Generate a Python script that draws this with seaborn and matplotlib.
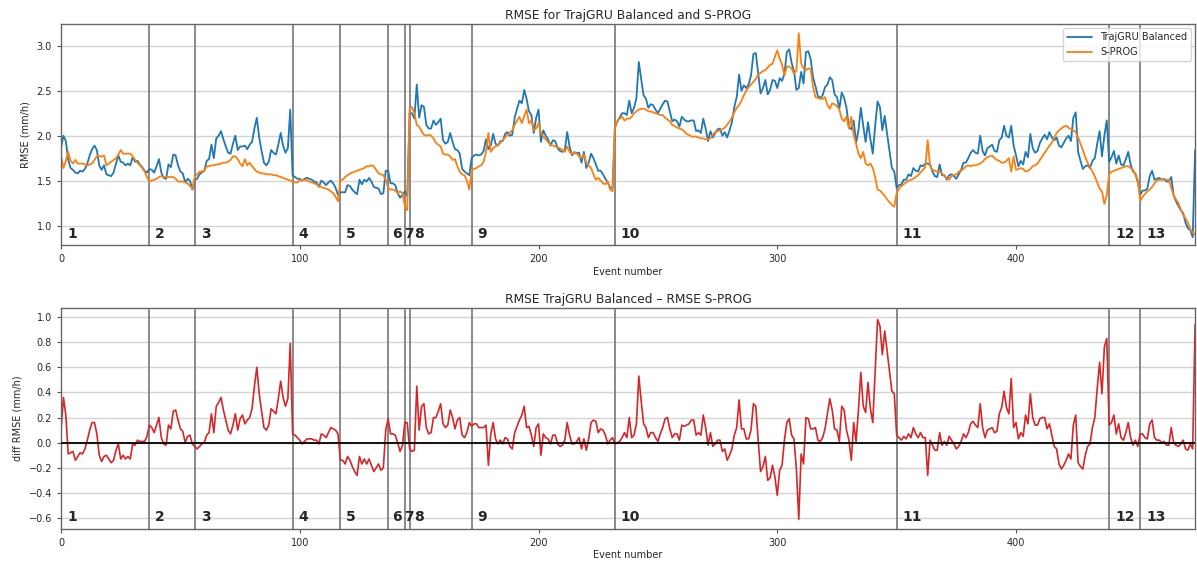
import numpy as np
import matplotlib
matplotlib.use("Agg")
import matplotlib.pyplot as plt
import matplotlib.transforms as mtransforms
import seaborn as sns

# First event number of each of the 13 precipitation events
event_starts = [0, 37, 56, 97, 117, 137, 144, 146, 172, 232, 350, 439, 452]
event_labels = ["1", "2", "3", "4", "5", "6", "7", "8", "9", "10", "11", "12", "13"]

# S-PROG RMSE (mm/h), one value per event number
sprog_rmse = [
    # event 1
    1.77, 1.64, 1.72, 1.82, 1.72, 1.69, 1.73, 1.69, 1.69, 1.69,
    1.68, 1.67, 1.68, 1.69, 1.73, 1.77, 1.77, 1.77, 1.78, 1.67,
    1.69, 1.71, 1.73, 1.75, 1.79, 1.84, 1.80, 1.80, 1.80, 1.80,
    1.77, 1.73, 1.70, 1.67, 1.64, 1.60, 1.54,
    # event 2
    1.49, 1.50, 1.51, 1.52, 1.54, 1.55, 1.54, 1.54, 1.54, 1.54,
    1.54, 1.52, 1.49, 1.49, 1.49, 1.48, 1.47, 1.44, 1.41,
    # event 3
    1.54, 1.57, 1.60, 1.60, 1.61, 1.66, 1.66, 1.67, 1.67, 1.68,
    1.68, 1.69, 1.70, 1.70, 1.71, 1.73, 1.77, 1.77, 1.74, 1.69,
    1.66, 1.74, 1.67, 1.70, 1.66, 1.63, 1.60, 1.59, 1.58, 1.58,
    1.57, 1.57, 1.57, 1.56, 1.56, 1.55, 1.54, 1.53, 1.52, 1.51, 1.50,
    # event 4
    1.49, 1.48, 1.48, 1.50, 1.51, 1.51, 1.50, 1.49, 1.48, 1.47,
    1.46, 1.44, 1.43, 1.42, 1.41, 1.40, 1.38, 1.36, 1.32, 1.27,
    # event 5
    1.51, 1.51, 1.54, 1.56, 1.58, 1.59, 1.60, 1.61, 1.62, 1.63,
    1.64, 1.66, 1.66, 1.67, 1.66, 1.62, 1.58, 1.57, 1.56, 1.51,
    # event 6
    1.42, 1.40, 1.40, 1.39, 1.36, 1.38, 1.36,
    # event 7
    1.22, 1.17,
    # event 8
    2.30, 2.32, 2.25, 2.12, 2.10, 2.05, 2.01, 2.00, 2.01, 2.00,
    1.97, 1.92, 1.90, 1.88, 1.80, 1.79, 1.79, 1.77, 1.73, 1.74,
    1.66, 1.60, 1.57, 1.56, 1.50, 1.40,
    # event 9
    1.62, 1.63, 1.64, 1.66, 1.67, 1.71, 1.82, 2.03, 1.82, 1.86,
    1.88, 1.90, 1.92, 1.95, 1.98, 2.01, 2.03, 2.06, 2.12, 2.17,
    2.21, 2.14, 2.22, 2.29, 2.14, 2.17, 2.06, 2.08, 2.14, 2.03,
    1.99, 1.96, 1.93, 1.90, 1.89, 1.88, 1.87, 1.86, 1.84, 1.82,
    1.88, 1.82, 1.79, 1.82, 1.80, 1.77, 1.75, 1.79, 1.70, 1.67,
    1.64, 1.57, 1.51, 1.53, 1.50, 1.47, 1.46, 1.49, 1.40, 1.38,
    # event 10
    2.10, 2.16, 2.19, 2.21, 2.17, 2.19, 2.19, 2.21, 2.25, 2.27,
    2.29, 2.30, 2.30, 2.29, 2.27, 2.27, 2.26, 2.25, 2.24, 2.23,
    2.23, 2.20, 2.18, 2.16, 2.12, 2.11, 2.09, 2.08, 2.07, 2.05,
    2.02, 2.01, 1.99, 1.99, 1.99, 1.98, 1.97, 1.97, 1.96, 1.96,
    1.97, 2.01, 2.04, 2.05, 2.06, 2.07, 2.09, 2.12, 2.16, 2.20,
    2.26, 2.31, 2.34, 2.39, 2.45, 2.50, 2.54, 2.57, 2.60, 2.63,
    2.68, 2.70, 2.72, 2.73, 2.76, 2.79, 2.80, 2.88, 2.95, 2.86,
    2.79, 2.67, 2.77, 2.77, 2.75, 2.69, 2.72, 3.14, 2.80, 2.75,
    2.73, 2.75, 2.74, 2.54, 2.43, 2.42, 2.41, 2.41, 2.43, 2.34,
    2.30, 2.36, 2.35, 2.33, 2.29, 2.19, 2.16, 2.21, 2.08, 2.21,
    2.01, 1.91, 1.80, 1.75, 1.82, 1.69, 1.67, 1.69, 1.64, 1.54,
    1.40, 1.39, 1.36, 1.33, 1.29, 1.26, 1.23, 1.21,
    # event 11
    1.36, 1.41, 1.44, 1.46, 1.48, 1.50, 1.51, 1.52, 1.54, 1.56,
    1.59, 1.62, 1.65, 1.95, 1.66, 1.62, 1.61, 1.60, 1.60, 1.58,
    1.55, 1.53, 1.51, 1.55, 1.56, 1.57, 1.60, 1.61, 1.63, 1.66,
    1.67, 1.66, 1.67, 1.67, 1.68, 1.69, 1.71, 1.74, 1.76, 1.77,
    1.78, 1.75, 1.73, 1.72, 1.70, 1.70, 1.72, 1.75, 1.60, 1.77,
    1.62, 1.63, 1.64, 1.63, 1.60, 1.61, 1.63, 1.66, 1.67, 1.69,
    1.73, 1.77, 1.81, 1.85, 1.89, 1.92, 1.98, 2.03, 2.06, 2.08,
    2.10, 2.11, 2.09, 2.07, 2.06, 2.04, 1.98, 1.91, 1.84, 1.76,
    1.70, 1.65, 1.60, 1.55, 1.48, 1.41, 1.38, 1.24, 1.34,
    # event 12
    1.57, 1.60, 1.61, 1.62, 1.63, 1.64, 1.65, 1.66, 1.66, 1.64,
    1.62, 1.56, 1.51,
    # event 13
    1.27, 1.32, 1.35, 1.38, 1.40, 1.43, 1.47, 1.50, 1.51, 1.51,
    1.51, 1.51, 1.51, 1.42, 1.34, 1.29, 1.25, 1.18, 1.12, 1.08,
    1.03, 0.96, 0.92, 0.90,
]

# RMSE(TrajGRU Balanced) - RMSE(S-PROG) (mm/h), one value per event number
rmse_diff = [
    # event 1
    0.10, 0.36, 0.22, -0.09, -0.08, -0.07, -0.14, -0.11, -0.08, -0.09,
    -0.05, 0.02, 0.10, 0.16, 0.16, 0.07, -0.10, -0.15, -0.11, -0.10,
    -0.13, -0.16, -0.14, -0.06, -0.01, -0.13, -0.10, -0.13, -0.11, -0.13,
    -0.01, -0.02, 0.02, 0.01, 0.01, 0.01, 0.05,
    # event 2
    0.14, 0.12, 0.08, 0.14, 0.20, 0.04, -0.01, -0.02, 0.14, 0.11,
    0.25, 0.26, 0.18, 0.11, 0.09, 0.00, 0.05, 0.06, -0.01,
    # event 3
    -0.03, -0.05, -0.03, -0.01, 0.00, 0.06, 0.08, 0.23, 0.08, 0.29,
    0.32, 0.36, 0.26, 0.18, 0.10, 0.07, 0.14, 0.23, 0.10, 0.19,
    0.22, 0.15, 0.18, 0.20, 0.27, 0.45, 0.60, 0.39, 0.25, 0.12,
    0.10, 0.14, 0.27, 0.25, 0.23, 0.35, 0.49, 0.36, 0.29, 0.35, 0.79,
    # event 4
    0.07, 0.06, 0.04, 0.02, -0.01, 0.01, 0.03, 0.03, 0.03, 0.02,
    0.02, -0.01, 0.07, 0.06, 0.04, 0.08, 0.12, 0.11, 0.10, 0.07,
    # event 5
    -0.14, -0.14, -0.17, -0.11, -0.14, -0.19, -0.23, -0.26, -0.11, -0.17,
    -0.13, -0.17, -0.13, -0.18, -0.23, -0.20, -0.17, -0.22, -0.20, 0.10,
    # event 6
    0.19, 0.07, 0.07, 0.06, 0.00, -0.07, -0.02,
    # event 7
    0.16, 0.16,
    # event 8
    -0.05, -0.07, -0.06, 0.45, 0.10, 0.29, 0.31, 0.12, 0.07, 0.08,
    0.20, 0.20, 0.25, 0.31, 0.15, 0.12, 0.14, 0.26, 0.20, 0.11,
    0.18, 0.20, 0.06, 0.04, 0.08, 0.16,
    # event 9
    0.13, 0.15, 0.15, 0.12, 0.12, 0.12, 0.14, -0.18, 0.07, 0.16,
    0.03, -0.01, 0.02, -0.01, 0.04, 0.03, -0.03, -0.05, 0.08, 0.13,
    0.18, 0.22, 0.29, 0.12, 0.13, 0.06, -0.03, 0.12, 0.15, -0.10,
    0.07, 0.04, 0.03, -0.01, 0.06, 0.06, -0.01, -0.03, -0.02, 0.02,
    0.16, 0.06, -0.01, -0.01, 0.01, 0.04, -0.05, 0.03, -0.06, 0.03,
    0.16, 0.18, 0.17, 0.08, 0.11, 0.10, 0.06, -0.01, 0.02, 0.04,
    # event 10
    -0.01, 0.00, 0.01, 0.04, 0.08, 0.04, 0.20, 0.04, 0.06, 0.15,
    0.53, 0.33, 0.15, 0.12, 0.04, 0.08, 0.08, 0.04, 0.01, 0.07,
    0.12, 0.19, 0.20, 0.11, 0.04, 0.07, 0.07, 0.02, 0.14, 0.13,
    0.14, 0.15, 0.18, 0.18, 0.06, 0.08, 0.06, 0.22, 0.12, -0.02,
    0.08, -0.03, -0.01, 0.02, 0.02, -0.07, -0.05, -0.14, -0.10, -0.05,
    0.06, 0.12, 0.34, 0.11, 0.11, 0.03, 0.03, 0.10, 0.31, 0.29,
    0.02, -0.23, -0.19, -0.11, -0.30, -0.28, -0.18, -0.27, -0.42, -0.22,
    -0.18, 0.02, 0.16, 0.19, 0.06, 0.03, -0.21, -0.61, -0.09, -0.17,
    0.20, 0.19, 0.11, 0.11, 0.12, 0.02, 0.01, 0.04, 0.11, 0.23,
    0.35, 0.26, 0.11, 0.10, 0.01, 0.29, 0.26, 0.10, 0.02, -0.14,
    0.16, 0.01, 0.26, 0.56, 0.29, 0.24, 0.48, 0.27, 0.16, 0.57,
    0.98, 0.93, 0.70, 0.89, 0.73, 0.57, 0.41, 0.39,
    # event 11
    0.06, 0.04, 0.02, 0.05, 0.03, 0.07, 0.04, 0.12, 0.07, 0.04,
    0.08, 0.04, 0.04, -0.26, 0.02, -0.02, -0.06, -0.06, 0.08, -0.02,
    0.01, -0.02, 0.05, 0.02, -0.01, -0.05, -0.03, 0.01, 0.07, 0.04,
    0.08, 0.15, 0.17, 0.14, 0.12, 0.31, 0.12, 0.04, 0.10, 0.11,
    0.12, 0.08, 0.09, 0.23, 0.28, 0.41, 0.28, 0.23, 0.51, 0.12,
    0.16, 0.03, 0.08, 0.05, 0.22, 0.15, 0.39, 0.20, 0.14, 0.14,
    0.19, 0.20, 0.20, 0.11, 0.15, 0.06, -0.03, -0.05, -0.17, -0.21,
    -0.18, -0.14, -0.09, -0.13, 0.14, 0.22, -0.16, -0.19, -0.21, -0.10,
    -0.03, -0.01, 0.12, 0.20, 0.43, 0.64, 0.39, 0.76, 0.83,
    # event 12
    0.14, 0.16, 0.22, 0.07, 0.15, 0.04, 0.02, 0.08, 0.16, 0.04,
    -0.02, 0.02, -0.03,
    # event 13
    0.07, 0.07, 0.04, 0.03, 0.15, 0.18, 0.04, 0.02, 0.02, 0.00,
    0.01, -0.02, -0.02, 0.12, 0.00, -0.02, -0.03, -0.01, 0.02, -0.05,
    -0.06, -0.01, -0.05, 0.94,
]

sprog = np.array(sprog_rmse)
diff = np.array(rmse_diff)
trajgru = np.round(sprog + diff, 3)
event_number = np.arange(len(sprog))

sns.set_style("ticks")
plt.rcParams["font.family"] = ["DejaVu Sans"]

fig = plt.figure(figsize=(11.97, 5.62), dpi=100)
ax1 = fig.add_axes([0.051, 0.5635, 0.9474, 0.3933])
ax2 = fig.add_axes([0.051, 0.0593, 0.9474, 0.3921])

blue, orange, red = "#1f77b4", "#ff7f0e", "#d62728"
label_shift = {"6": 1.5, "7": -0.5, "8": 2.0}

# --- top panel: RMSE of both nowcasts ---
sns.lineplot(x=event_number, y=trajgru, ax=ax1, color=blue, lw=1.3,
             label="TrajGRU Balanced")
sns.lineplot(x=event_number, y=sprog, ax=ax1, color=orange, lw=1.3,
             label="S-PROG")
ax1.set_title("RMSE for TrajGRU Balanced and S-PROG", fontsize=8.8, pad=4)
ax1.set_ylabel("RMSE (mm/h)", fontsize=7)
ax1.set_ylim(0.78, 3.24)
ax1.set_yticks([1.0, 1.5, 2.0, 2.5, 3.0])
ax1.legend(loc="upper right", fontsize=7, frameon=True, handlelength=2.6,
           borderaxespad=0.4, fancybox=True)

# --- bottom panel: difference ---
sns.lineplot(x=event_number, y=diff, ax=ax2, color=red, lw=1.2)
ax2.axhline(0, color="black", lw=1.3, zorder=3)
ax2.set_title("RMSE TrajGRU Balanced \u2013 RMSE S-PROG", fontsize=8.8, pad=4)
ax2.set_ylabel("diff RMSE (mm/h)", fontsize=7)
ax2.set_ylim(-0.685, 1.07)
ax2.set_yticks(np.round(np.arange(-0.6, 1.01, 0.2), 1))

for ax in (ax1, ax2):
    ax.set_xlim(0, len(sprog) - 1)
    ax.set_xticks([0, 100, 200, 300, 400])
    ax.set_xlabel("Event number", fontsize=7, labelpad=2)
    ax.tick_params(labelsize=7, length=3, color="#555555")
    ax.yaxis.grid(True, color="#d4d4d4", lw=1.0)
    ax.xaxis.grid(False)
    for sp in ax.spines.values():
        sp.set_visible(True)
        sp.set_color("#666666")
        sp.set_linewidth(1.0)
    for s in event_starts[1:]:
        ax.axvline(s, color="#808080", lw=1.3, zorder=1.5)
    trans = mtransforms.blended_transform_factory(ax.transData, ax.transAxes)
    for s, lab in zip(event_starts, event_labels):
        ax.text(s + label_shift.get(lab, 2.5), 0.02, lab, transform=trans,
                fontsize=10, fontweight="bold", ha="left", va="bottom")

fig.savefig("out.png", dpi=100)
